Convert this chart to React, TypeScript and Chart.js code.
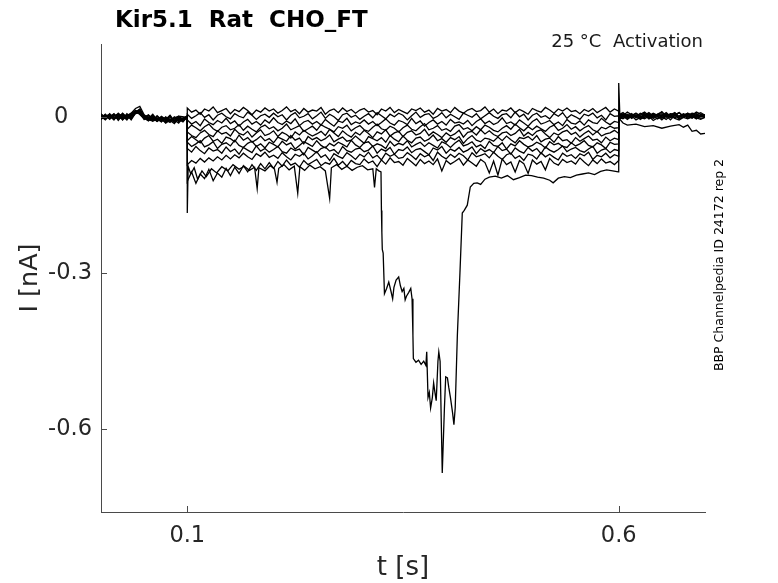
import { useEffect, useRef } from 'react';
import { Chart, registerables } from 'chart.js';

Chart.register(...registerables);

const FONT = "'DejaVu Sans', sans-serif";
const AXIS_COLOR = '#4a4a4a';
const TEXT_COLOR = '#262626';

const TITLE = 'Kir5.1  Rat  CHO_FT';
const CONDITION = '25 \u00b0C  Activation';
const SOURCE = 'BBP Channelpedia ID 24172 rep 2';
const X_TITLE = 't [s]';
const Y_TITLE = 'I [nA]';

// protocol windows (s)
const T_START = 0;
const T_ON = 0.1;
const T_OFF = 0.6;
const T_END = 0.7;

const xTickValues = [0.1, 0.6];
const xTickLabels = ['0.1', '0.6'];
const yTickValues = [-0.6, -0.3, 0];
const yTickLabels = ['-0.6', '-0.3', '0'];

// currents in pA
// holding period 0 .. 0.1 s
const preCurrents = [
  [3, -4, 6, -2, 5, -6, 2, 7, 16, 20, 4, -3, 5, -7, 1, -5, 3, -8, 0, -4, 2],
  [-2, 5, -5, 3, -1, 6, -3, 4, 8, 11, -2, -6, 1, -9, -3, -7, 2, -11, -4, -8, -1],
  [4, -1, 2, -6, 7, 0, -4, 3, 9, 6, 1, -5, -2, -8, -4, -12, -6, -3, -9, -5, 0],
  [-5, 2, -3, 5, -7, 3, 1, -4, 6, 8, -1, 3, -6, -2, -9, 0, -7, -13, -3, -6, 2],
  [1, -6, 4, -2, 3, -5, 6, -1, 10, 5, -4, -1, -8, 2, -5, -10, -1, -6, -12, -2, -1],
  [-3, 4, -1, 6, -4, 2, -6, 5, 7, 12, 0, -7, 3, -4, -10, -2, -8, -4, 1, -7, 1],
  [6, -2, 3, -5, 1, 5, -3, 2, 12, 9, -5, 2, -3, -9, 0, -6, -11, -2, -7, -3, -2],
  [-1, 3, -4, 2, 6, -3, 4, -6, 8, 14, 3, -2, -7, 1, -6, -3, -9, 0, -5, -10, 0],
  [2, -5, 1, 4, -3, 7, -1, 3, 11, 7, -3, -8, 0, -5, -2, -11, -4, -7, -1, -6, -2],
  [-4, 1, 5, -3, 2, -4, 3, -2, 9, 15, -1, 4, -5, -3, -8, -1, -6, -10, -2, -4, 1],
];

// test pulse 0.1 .. 0.6 s
const stepCurrents = [
  [
    17, 9, 13, 5, 15, 11, 19, 8, 12, 16,
    6, 14, 10, 18, 12, 4, 13, 9, 17, 11,
    15, 7, 12, 19, 10, 14, 6, 16, 9, 13,
    11, 18, 5, 12, 15, 8, 17, 10, 14, 7,
    13, 16, 9, 12, 4, 15, 11, 18, 8, 14,
    10, 6, 15, 12, 17, 9, 13, 5, 16, 11,
    14, 8, 18, 11, 7, 13, 16, 10, 12, 19,
    9, 15, 6, 13, 11, 17, 8, 14, 10, 5,
    16, 12, 9, 18, 13, 7, 15, 11, 17, 10,
    12, 6, 14, 10, 16, 8, 13, 18, 9, 15,
    11,
  ],
  [
    5, -3, 2, 8, -1, 4, -6, 3, 7, 0,
    -4, 6, 1, -2, 9, 3, -5, 2, 5, -1,
    7, 0, 4, -6, 3, 8, -2, 1, 6, -4,
    2, 9, -3, 5, 0, -7, 4, 7, -1, 3,
    -5, 1, 6, -2, 8, 2, -4, 5, 0, 7,
    3, -6, 2, 9, -1, 4, 6, -3, 1, 8,
    -2, 5, 0, -5, 7, 3, -1, 6, -4, 2,
    8, 1, -3, 4, 6, -2, 9, 0, 5, -6,
    3, 7, -1, 2, -4, 6, 1, 8, -3, 4,
    0, -5, 5, 2, 7, -2, 3, -6, 6, 1,
    2,
  ],
  [
    -6, -14, -9, -17, -4, -11, -15, -7, -12, -3,
    -13, -8, -18, -10, -5, -14, -9, -16, -6, -12,
    -2, -11, -15, -8, -13, -4, -17, -10, -7, -14,
    -9, -16, -5, -12, -18, -8, -11, -3, -15, -10,
    -13, -6, -14, -9, -17, -11, -4, -12, -16, -7,
    -10, -15, -3, -13, -8, -18, -11, -6, -14, -9,
    -16, -5, -12, -10, -14, -7, -17, -9, -4, -13,
    -8, -15, -11, -2, -13, -10, -16, -6, -12, -18,
    -9, -4, -14, -11, -7, -15, -10, -17, -5, -12,
    -14, -8, -16, -6, -11, -13, -3, -10, -15, -9,
    -11,
  ],
  [
    -24, -16, -21, -27, -19, -14, -23, -28, -20, -17,
    -25, -22, -15, -26, -18, -24, -29, -20, -16, -23,
    -19, -27, -22, -14, -25, -21, -17, -28, -23, -18,
    -26, -15, -20, -24, -29, -19, -22, -16, -27, -21,
    -17, -25, -28, -20, -14, -23, -26, -18, -22, -29,
    -21, -16, -24, -27, -19, -13, -25, -22, -17, -26,
    -23, -28, -18, -15, -24, -21, -27, -19, -25, -16,
    -20, -26, -29, -22, -17, -24, -14, -21, -27, -19,
    -25, -18, -23, -28, -20, -16, -26, -22, -15, -24,
    -19, -27, -21, -17, -25, -29, -20, -23, -18, -22,
    -21,
  ],
  [
    -29, -36, -40, -31, -26, -34, -38, -27, -33, -30,
    -37, -24, -32, -35, -28, -39, -31, -25, -36, -33,
    -27, -38, -30, -34, -41, -29, -35, -26, -32, -37,
    -33, -28, -36, -24, -31, -38, -27, -34, -39, -30,
    -35, -26, -32, -40, -29, -33, -25, -37, -31, -28,
    -38, -30, -27, -35, -32, -24, -36, -29, -34, -40,
    -31, -37, -33, -26, -39, -30, -28, -35, -25, -33,
    -27, -34, -38, -31, -29, -36, -32, -24, -37, -30,
    -36, -28, -25, -33, -40, -31, -35, -29, -26, -34,
    -30, -39, -32, -27, -35, -28, -37, -33, -31, -26,
    -32,
  ],
  [
    -46, -38, -44, -50, -41, -36, -47, -43, -51, -39,
    -42, -48, -35, -45, -40, -49, -44, -37, -46, -42,
    -50, -39, -43, -47, -36, -45, -41, -52, -38, -44,
    -40, -46, -42, -35, -48, -43, -39, -47, -45, -37,
    -44, -51, -38, -42, -46, -40, -49, -36, -43, -48,
    -37, -45, -50, -41, -39, -47, -43, -35, -46, -42,
    -49, -40, -44, -38, -51, -42, -36, -45, -48, -41,
    -43, -47, -39, -46, -37, -44, -50, -40, -42, -38,
    -45, -36, -48, -43, -41, -49, -38, -46, -44, -51,
    -40, -47, -42, -37, -45, -43, -50, -39, -46, -41,
    -44,
  ],
  [
    -49, -57, -52, -46, -58, -54, -48, -61, -53, -50,
    -56, -45, -55, -59, -51, -47, -57, -52, -60, -49,
    -53, -58, -47, -54, -50, -62, -55, -48, -52, -57,
    -46, -55, -60, -51, -56, -49, -53, -58, -45, -54,
    -59, -50, -48, -57, -52, -55, -61, -47, -56, -51,
    -54, -46, -58, -53, -49, -57, -50, -55, -60, -48,
    -52, -59, -51, -45, -56, -53, -48, -58, -54, -61,
    -47, -55, -57, -50, -62, -52, -56, -46, -53, -58,
    -55, -49, -53, -60, -48, -54, -51, -57, -59, -50,
    -56, -52, -46, -55, -58, -50, -54, -61, -49, -53,
    -52,
  ],
  [
    -61, -68, -57, -65, -71, -60, -66, -63, -70, -58,
    -67, -62, -72, -59, -64, -69, -56, -66, -61, -68,
    -63, -57, -67, -70, -60, -65, -62, -73, -59, -64,
    -69, -61, -58, -66, -63, -71, -57, -65, -68, -62,
    -60, -67, -64, -56, -70, -62, -66, -59, -72, -63,
    -65, -58, -69, -63, -61, -67, -73, -60, -64, -57,
    -70, -62, -66, -59, -68, -64, -58, -71, -61, -67,
    -63, -69, -57, -65, -62, -72, -60, -66, -70, -59,
    -66, -61, -71, -58, -64, -68, -63, -56, -67, -62,
    -59, -65, -68, -62, -57, -70, -64, -61, -69, -63,
    -65,
  ],
  [
    -92, -84, -89, -80, -87, -79, -85, -77, -83, -74,
    -81, -73, -79, -70, -77, -82, -71, -76, -68, -78,
    -74, -80, -69, -77, -83, -72, -76, -70, -81, -75,
    -67, -78, -73, -84, -71, -76, -80, -69, -75, -82,
    -72, -77, -68, -79, -74, -83, -70, -76, -72, -80,
    -78, -69, -75, -82, -71, -77, -73, -84, -68, -76,
    -81, -72, -78, -70, -75, -83, -69, -77, -74, -71,
    -79, -68, -76, -82, -73, -70, -80, -75, -84, -72,
    -74, -81, -69, -77, -72, -78, -83, -70, -76, -73,
    -80, -71, -75, -68, -82, -74, -77, -70, -79, -73,
    -76,
  ],
  [
    -124, -106, -128, -110, -119, -101, -123, -108, -116, -99,
    -113, -97, -109, -94, -106, -92, -103, -90, -100, -88,
    -99, -86, -95, -83, -93, -89, -97, -84, -92, -87,
    -82, -94, -88, -91, -80, -93, -86, -95, -84, -90,
    -92, -81, -89, -85, -96, -83, -91, -79, -88, -86,
    -93, -80, -87, -94, -82, -90, -85, -92, -81, -104,
    -84, -91, -86, -80, -93, -83, -89, -95, -82, -88,
    -108, -85, -112, -81, -92, -87, -106, -84, -90, -109,
    -83, -91, -86, -102, -80, -89, -93, -82, -88, -85,
    -91, -79, -87, -94, -83, -90, -81, -89, -86, -92,
    -84,
  ],
];

// tail 0.6 .. 0.7 s
const postCurrents = [
  [4, 8, 1, 6, -2, 5, 9, 2, 7, 3, 10, 0, 6, 4, 8, 1, 7, 3, 9, 5, 2],
  [-3, 2, -5, 1, 4, -2, 3, -4, 0, 5, -1, 2, -6, 3, -2, 4, -3, 1, -4, 2, 0],
  [1, 5, -1, 3, 7, 0, 4, -2, 6, 2, -3, 5, 1, 7, -1, 3, 6, 0, 4, 8, 3],
  [-5, 0, -3, 2, -6, -1, -4, 1, -7, -2, 0, -5, 2, -3, -6, -1, -4, 0, -2, -5, -1],
  [6, 2, 9, 4, 0, 7, 3, 8, 1, 5, 9, 2, 4, 8, 0, 6, 3, 7, 5, 1, 4],
  [-1, -4, 2, -2, 3, -5, 0, 4, -3, 1, -6, 2, -1, 3, -4, 0, 5, -2, 1, -3, -1],
  [2, 6, 0, 4, -1, 3, 7, -2, 5, 1, 4, -1, 6, 2, 8, 0, 3, 5, -1, 4, 2],
  [-2, 1, 4, -3, 2, -1, 5, 0, 3, -4, 1, 6, -2, 2, -1, 4, 1, -3, 3, 0, 2],
  [3, -1, 5, 1, 7, 2, -2, 6, 0, 4, 2, 8, 1, 5, -1, 3, 7, 2, 6, 1, 3],
  [0, 4, -2, 3, 1, -3, 2, 5, -1, 3, 6, 0, 4, -2, 2, 5, -1, 3, 0, 4, 2],
];

// sweep with the large transient inward current (unevenly sampled)
const dipTime = [
  0, 0.01, 0.02, 0.03, 0.04, 0.05, 0.06, 0.07, 0.08, 0.09, 0.1,
  0.1, 0.101, 0.104, 0.108, 0.112, 0.117, 0.122, 0.128, 0.134, 0.14,
  0.147, 0.153, 0.16, 0.166, 0.172, 0.178, 0.181, 0.183, 0.19, 0.196,
  0.201, 0.204, 0.206, 0.212, 0.218, 0.224, 0.228, 0.2305, 0.236, 0.242,
  0.248, 0.254, 0.26, 0.265, 0.267, 0.273, 0.279, 0.285, 0.291, 0.297,
  0.303, 0.309, 0.315, 0.317, 0.319, 0.322, 0.3245, 0.325, 0.3255, 0.326,
  0.327, 0.3285, 0.331, 0.3335, 0.336, 0.338, 0.3395, 0.342, 0.345, 0.347,
  0.349, 0.351, 0.3525, 0.354, 0.3565, 0.359, 0.3605, 0.3615, 0.362, 0.365,
  0.368, 0.371, 0.374, 0.3765, 0.3775, 0.379, 0.3805, 0.382, 0.384, 0.3855,
  0.387, 0.3885, 0.3905, 0.3915, 0.393, 0.3955, 0.398, 0.3995, 0.4015, 0.403,
  0.405, 0.4075, 0.409, 0.4105, 0.413, 0.416, 0.4187, 0.421, 0.4245, 0.428,
  0.432, 0.436, 0.44, 0.445, 0.45, 0.457, 0.464, 0.471, 0.478, 0.485,
  0.492, 0.499, 0.506, 0.513, 0.52, 0.524, 0.53, 0.537, 0.544, 0.551,
  0.558, 0.565, 0.572, 0.579, 0.586, 0.593, 0.5995, 0.6,
  0.6, 0.6015, 0.605, 0.61, 0.62, 0.63, 0.64, 0.65, 0.66, 0.67, 0.675, 0.68, 0.685, 0.69, 0.695, 0.7,
];
const dipCurrent = [
  -2, 3, -4, 1, 12, -3, -8, -2, -6, 1, -1,
  -185, -95, -110, -98, -120, -104, -115, -100, -108, -96,
  -104, -92, -101, -95, -103, -97, -138, -98, -104, -94,
  -100, -126, -99, -92, -102, -95, -147, -96, -103, -93,
  -100, -96, -104, -157, -98, -92, -101, -95, -103, -97,
  -94, -102, -100, -136, -100, -104, -106, -180, -222, -255,
  -262, -340, -330, -318, -335, -350, -328, -314, -308, -325,
  -336, -330, -352, -345, -338, -330, -350, -420, -465, -472,
  -468, -476, -470, -478, -452, -540, -530, -560, -540, -512,
  -530, -546, -470, -452, -470, -685, -560, -500, -502, -520,
  -540, -570, -592, -560, -420, -300, -185, -180, -170, -135,
  -128, -127, -130, -120, -116, -114, -118, -113, -121, -117,
  -112, -113, -116, -118, -122, -127, -118, -115, -117, -112,
  -110, -108, -111, -105, -102, -104, -106, -104,
  65, -5, -12, -16, -14, -19, -17, -22, -18, -15, -20, -16, -28, -26, -33, -32,
];

const X_MIN = 0;
const X_MAX = 0.7;
const Y_MIN = -0.76;
const Y_MAX = 0.14;

// evenly sampled segment between t0 and t1, pA -> nA
function segment(values: number[], t0: number, t1: number) {
  const dt = (t1 - t0) / (values.length - 1);
  return values.map((v, i) => ({ x: t0 + i * dt, y: v / 1000 }));
}

const decorations = {
  id: 'decorations',
  afterDraw(chart: Chart) {
    const { ctx, chartArea, scales } = chart;
    const xs = scales.x;
    const ys = scales.y;
    ctx.save();

    // inward tick marks
    ctx.strokeStyle = AXIS_COLOR;
    ctx.lineWidth = 1;
    ctx.beginPath();
    xTickValues.forEach((v) => {
      const px = Math.round(xs.getPixelForValue(v)) + 0.5;
      ctx.moveTo(px, chartArea.bottom);
      ctx.lineTo(px, chartArea.bottom - 6);
    });
    yTickValues.forEach((v) => {
      const py = Math.round(ys.getPixelForValue(v)) + 0.5;
      ctx.moveTo(chartArea.left, py);
      ctx.lineTo(chartArea.left + 6, py);
    });
    ctx.stroke();

    ctx.fillStyle = '#000';
    ctx.textBaseline = 'alphabetic';
    ctx.textAlign = 'left';
    ctx.font = `bold 23px ${FONT}`;
    ctx.fillText(TITLE, 115, 27);

    ctx.fillStyle = '#1a1a1a';
    ctx.textAlign = 'right';
    ctx.font = `18px ${FONT}`;
    ctx.fillText(CONDITION, 703, 47);

    ctx.fillStyle = TEXT_COLOR;
    ctx.textAlign = 'center';
    ctx.font = `26px ${FONT}`;
    ctx.fillText(X_TITLE, (chartArea.left + chartArea.right) / 2, 575);

    ctx.save();
    ctx.translate(37, (chartArea.top + chartArea.bottom) / 2);
    ctx.rotate(-Math.PI / 2);
    ctx.font = `25.5px ${FONT}`;
    ctx.fillText(Y_TITLE, 0, 0);
    ctx.restore();

    ctx.save();
    ctx.translate(723, 265);
    ctx.rotate(-Math.PI / 2);
    ctx.fillStyle = '#000';
    ctx.font = `12.5px ${FONT}`;
    ctx.fillText(SOURCE, 0, 0);
    ctx.restore();

    ctx.restore();
  },
};

export default function App() {
  const canvasRef = useRef<HTMLCanvasElement | null>(null);

  useEffect(() => {
    document.body.style.margin = '0';
    if (!canvasRef.current) return;

    const sweeps = stepCurrents.map((step, i) => [
      ...segment(preCurrents[i], T_START, T_ON),
      ...segment(step, T_ON, T_OFF),
      ...segment(postCurrents[i], T_OFF, T_END),
    ]);
    sweeps.push(dipTime.map((t, i) => ({ x: t, y: dipCurrent[i] / 1000 })));

    const tickFont = { family: FONT, size: 22.5 };

    const chart = new Chart(canvasRef.current, {
      type: 'line',
      data: {
        datasets: sweeps.map((data) => ({
          data,
          borderColor: '#000',
          borderWidth: 1.3,
          pointRadius: 0,
          tension: 0,
          fill: false,
        })),
      },
      options: {
        responsive: false,
        animation: false,
        events: [],
        layout: { padding: { top: 44, right: 73, left: 0, bottom: 0 } },
        plugins: {
          legend: { display: false },
          tooltip: { enabled: false },
          title: { display: false },
        },
        scales: {
          x: {
            type: 'linear',
            min: X_MIN,
            max: X_MAX,
            afterBuildTicks: (scale) => {
              scale.ticks = xTickValues.map((value) => ({ value }));
            },
            afterFit: (scale) => {
              scale.height = 71;
            },
            grid: { display: true, drawOnChartArea: false, drawTicks: false },
            border: { display: true, color: AXIS_COLOR, width: 1 },
            ticks: {
              font: tickFont,
              color: TEXT_COLOR,
              padding: 11,
              maxRotation: 0,
              autoSkip: false,
              callback: (v) => xTickLabels[xTickValues.indexOf(Number(v))],
            },
          },
          y: {
            type: 'linear',
            min: Y_MIN,
            max: Y_MAX,
            afterBuildTicks: (scale) => {
              scale.ticks = yTickValues.map((value) => ({ value }));
            },
            afterFit: (scale) => {
              scale.width = 101;
            },
            grid: { display: true, drawOnChartArea: false, drawTicks: false },
            border: { display: true, color: AXIS_COLOR, width: 1 },
            ticks: {
              font: tickFont,
              color: TEXT_COLOR,
              padding: 9,
              autoSkip: false,
              callback: (v) => {
                const label = yTickLabels[yTickValues.indexOf(Number(v))];
                // the zero label sits further from the axis in the original
                return label === '0' ? label + '   \u200A' : label;
              },
            },
          },
        },
      },
      plugins: [decorations],
    });

    return () => {
      chart.destroy();
    };
  }, []);

  return (
    <div style={{ width: 778, height: 583, background: '#fff' }}>
      <canvas ref={canvasRef} width={778} height={583} />
    </div>
  );
}
